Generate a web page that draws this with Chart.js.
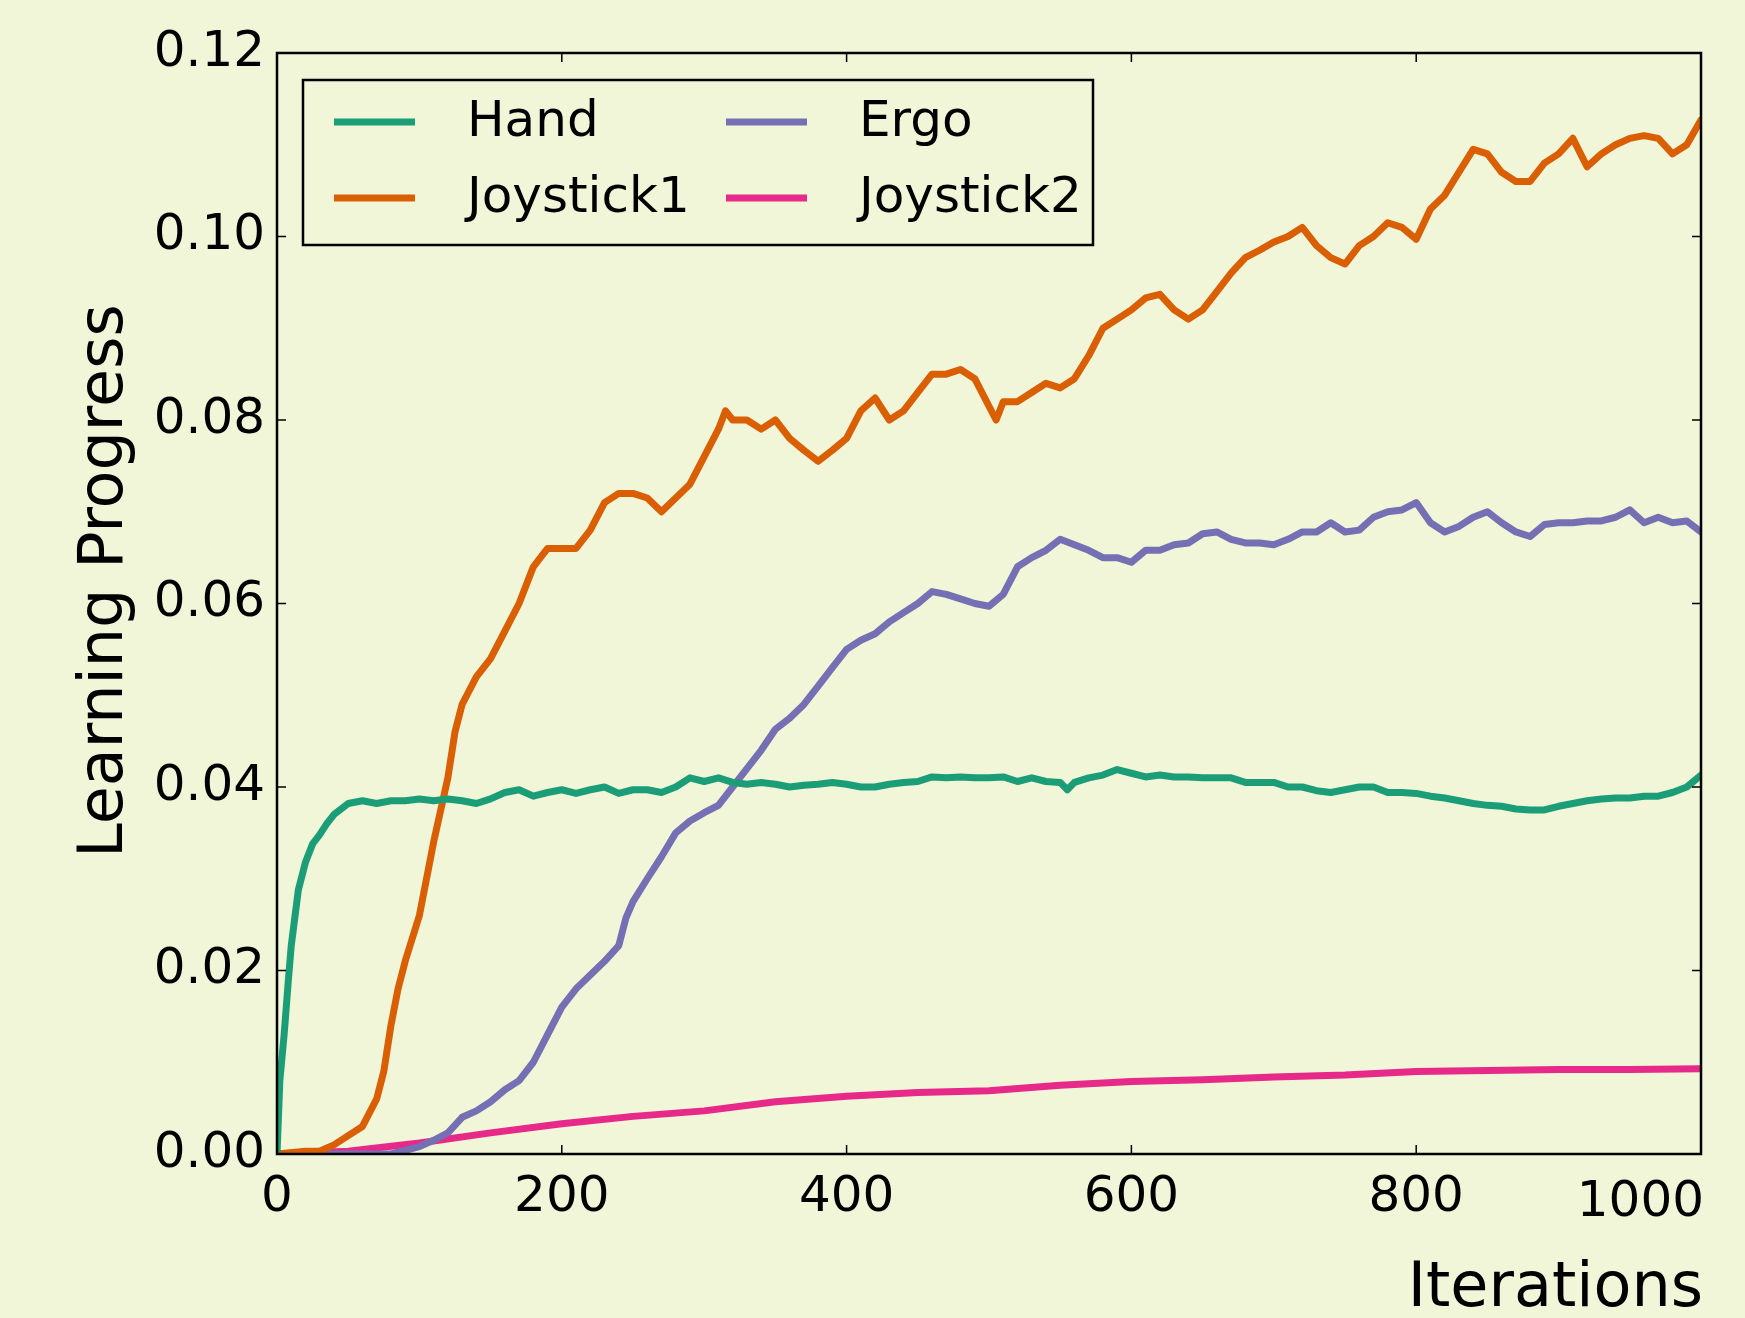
<!DOCTYPE html>
<html>
<head>
<meta charset="utf-8">
<script src="https://cdn.jsdelivr.net/npm/chart.js@4.4.1/dist/chart.umd.min.js"></script>
<style>
  html, body { margin: 0; padding: 0; background: #f1f6d8; }
  #wrap { width: 1745px; height: 1318px; }
</style>
</head>
<body>
<div id="wrap"><canvas id="lpChart" width="1745" height="1318"></canvas></div>
<script>
// values
const handIters = [0, 2, 5, 8, 10, 15, 20, 25, 30, 35, 40, 50, 60, 70, 80, 90, 100, 110, 120, 130, 140, 150, 160, 170, 180, 190,
  200, 210, 220, 230, 240, 250, 260, 270, 280, 290, 300, 310, 320, 330, 340, 350, 360, 370, 380, 390, 400, 410, 420, 430, 440,
  450, 460, 470, 480, 490, 500, 510, 520, 530, 540, 550, 555, 560, 570, 580, 590, 600, 610, 620, 630, 640, 650, 660, 670, 680,
  690, 700, 710, 720, 730, 740, 750, 760, 770, 780, 790, 800, 810, 820, 830, 840, 850, 860, 870, 880, 890, 900, 910, 920, 930,
  940, 950, 960, 970, 980, 990, 1000];
const handValues = [0, 0.008, 0.013, 0.019, 0.0227, 0.0288, 0.0318, 0.0338, 0.0348, 0.036, 0.037, 0.0382, 0.0385, 0.0382, 0.0385,
  0.0385, 0.0387, 0.0385, 0.0387, 0.0385, 0.0382, 0.0387, 0.0394, 0.0397, 0.039, 0.0394, 0.0397, 0.0393, 0.0397, 0.040, 0.0393,
  0.0397, 0.0397, 0.0394, 0.040, 0.041, 0.0406, 0.041, 0.0405, 0.0403, 0.0405, 0.0403, 0.040, 0.0402, 0.0403, 0.0405, 0.0403,
  0.040, 0.040, 0.0403, 0.0405, 0.0406, 0.0411, 0.041, 0.0411, 0.041, 0.041, 0.0411, 0.0406, 0.041, 0.0406, 0.0405, 0.0397,
  0.0405, 0.041, 0.0413, 0.0419, 0.0415, 0.0411, 0.0413, 0.0411, 0.0411, 0.041, 0.041, 0.041, 0.0405, 0.0405, 0.0405, 0.040,
  0.040, 0.0396, 0.0394, 0.0397, 0.040, 0.040, 0.0394, 0.0394, 0.0393, 0.039, 0.0388, 0.0385, 0.0382, 0.038, 0.0379, 0.0376,
  0.0375, 0.0375, 0.0379, 0.0382, 0.0385, 0.0387, 0.0388, 0.0388, 0.039, 0.039, 0.0394, 0.040, 0.0413];

const joy1Iters = [0, 20, 30, 40, 50, 60, 70, 75, 80, 85, 90, 100, 110, 120, 125, 130, 140, 150, 160, 170, 180, 190, 200, 210,
  220, 230, 240, 250, 260, 270, 280, 290, 300, 310, 315, 320, 330, 340, 350, 360, 370, 380, 390, 400, 410, 420, 430, 440, 450,
  460, 470, 480, 490, 500, 505, 510, 520, 530, 540, 550, 560, 570, 580, 590, 600, 610, 620, 630, 640, 650, 660, 670, 680, 690,
  700, 710, 720, 730, 740, 750, 760, 770, 780, 790, 800, 810, 820, 830, 840, 850, 860, 870, 880, 890, 900, 910, 920, 930, 940,
  950, 960, 970, 980, 990, 1000];
const joy1Values = [0, 0.0003, 0.0003, 0.001, 0.002, 0.003, 0.006, 0.009, 0.014, 0.018, 0.021, 0.026, 0.034, 0.041, 0.046,
  0.049, 0.052, 0.054, 0.057, 0.060, 0.064, 0.066, 0.066, 0.066, 0.068, 0.071, 0.072, 0.072, 0.0715, 0.070, 0.0715, 0.073,
  0.076, 0.079, 0.081, 0.080, 0.080, 0.079, 0.080, 0.078, 0.0767, 0.0755, 0.0767, 0.078, 0.081, 0.0824, 0.080, 0.081, 0.083,
  0.085, 0.085, 0.0855, 0.0845, 0.0815, 0.080, 0.082, 0.082, 0.083, 0.084, 0.0835, 0.0845, 0.087, 0.090, 0.091, 0.092, 0.0933,
  0.0937, 0.092, 0.091, 0.092, 0.094, 0.096, 0.0977, 0.0985, 0.0994, 0.100, 0.101, 0.099, 0.0977, 0.097, 0.099, 0.100, 0.1015,
  0.101, 0.0997, 0.103, 0.1045, 0.107, 0.1095, 0.109, 0.107, 0.106, 0.106, 0.108, 0.109, 0.1107, 0.1076, 0.109, 0.110, 0.1107,
  0.111, 0.1107, 0.109, 0.110, 0.1127];

const ergoIters = [0, 80, 90, 100, 110, 120, 130, 140, 150, 160, 170, 180, 190, 200, 210, 220, 230, 240, 245, 250, 260, 270,
  280, 290, 300, 310, 320, 330, 340, 350, 360, 370, 380, 390, 400, 410, 420, 430, 440, 450, 460, 470, 480, 490, 500, 510, 520,
  530, 540, 550, 560, 570, 580, 590, 600, 610, 620, 630, 640, 650, 660, 670, 680, 690, 700, 710, 720, 730, 740, 750, 760, 770,
  780, 790, 800, 810, 820, 830, 840, 850, 860, 870, 880, 890, 900, 910, 920, 930, 940, 950, 960, 970, 980, 990, 1000];
const ergoValues = [0, 0, 0.0004, 0.0008, 0.0015, 0.0023, 0.004, 0.0047, 0.0057, 0.007, 0.008, 0.010, 0.013, 0.016, 0.018,
  0.0195, 0.021, 0.0227, 0.0257, 0.0275, 0.030, 0.0324, 0.035, 0.0363, 0.0372, 0.038, 0.040, 0.042, 0.044, 0.0463, 0.0475,
  0.049, 0.051, 0.053, 0.055, 0.056, 0.0567, 0.058, 0.059, 0.060, 0.0613, 0.061, 0.0605, 0.060, 0.0597, 0.061, 0.064, 0.065,
  0.0658, 0.067, 0.0664, 0.0658, 0.065, 0.065, 0.0645, 0.0658, 0.0658, 0.0664, 0.0666, 0.0676, 0.0678, 0.067, 0.0666, 0.0666,
  0.0664, 0.067, 0.0678, 0.0678, 0.0688, 0.0678, 0.068, 0.0694, 0.070, 0.0702, 0.071, 0.0688, 0.0678, 0.0684, 0.0694, 0.070,
  0.0688, 0.0678, 0.0673, 0.0686, 0.0688, 0.0688, 0.069, 0.069, 0.0694, 0.0702, 0.0688, 0.0694, 0.0688, 0.069, 0.0678];

const joy2Iters = [0, 50, 100, 150, 200, 250, 300, 350, 400, 450, 500, 550, 600, 650, 700, 750, 800, 850, 900, 950, 1000];
const joy2Values = [0, 0.0003, 0.0012, 0.0023, 0.0033, 0.0041, 0.0047, 0.0057, 0.0063, 0.0067, 0.0069, 0.0075, 0.0079, 0.0081,
  0.0084, 0.0086, 0.009, 0.0091, 0.0092, 0.0092, 0.0093];

const xTicks = [0, 200, 400, 600, 800, 1000];
const yTicks = [0, 0.02, 0.04, 0.06, 0.08, 0.10, 0.12];

const BG = '#f1f6d8';
const FONT = '"DejaVu Sans", sans-serif';
const TICK_FONT = '50px ' + FONT;

function pairs(xs, ys) {
    return xs.map((x, i) => ({ x: x, y: ys[i] }));
}

const background = {
    id: 'background',
    beforeDraw(chart) {
        const ctx = chart.ctx;
        ctx.save();
        ctx.fillStyle = BG;
        ctx.fillRect(0, 0, chart.width, chart.height);
        ctx.restore();
    }
};

// box round the axes with inward ticks on every side, plus the x tick labels
const frame = {
    id: 'frame',
    afterDatasetsDraw(chart) {
        const { ctx, chartArea: a, scales } = chart;
        const len = 9;
        ctx.save();
        ctx.strokeStyle = '#000';
        ctx.lineWidth = 1.5;
        ctx.beginPath();
        xTicks.forEach(v => {
            const px = scales.x.getPixelForValue(v);
            ctx.moveTo(px, a.bottom); ctx.lineTo(px, a.bottom - len);
            ctx.moveTo(px, a.top); ctx.lineTo(px, a.top + len);
        });
        yTicks.forEach(v => {
            const py = scales.y.getPixelForValue(v);
            ctx.moveTo(a.left, py); ctx.lineTo(a.left + len, py);
            ctx.moveTo(a.right, py); ctx.lineTo(a.right - len, py);
        });
        ctx.stroke();
        ctx.lineWidth = 2.5;
        ctx.strokeRect(a.left, a.top, a.right - a.left, a.bottom - a.top);

        // last label sits flush with the right edge, as in the figure
        ctx.fillStyle = '#000';
        ctx.font = TICK_FONT;
        ctx.textBaseline = 'alphabetic';
        xTicks.forEach((v, i) => {
            const px = scales.x.getPixelForValue(v);
            const last = i === xTicks.length - 1;
            ctx.textAlign = last ? 'right' : 'center';
            ctx.fillText(String(v), last ? px + 3 : px, a.bottom + (last ? 62 : 57));
        });
        ctx.restore();
    }
};

const axisTitles = {
    id: 'axisTitles',
    afterDraw(chart) {
        const ctx = chart.ctx;
        const a = chart.chartArea;
        ctx.save();
        ctx.fillStyle = '#000';
        ctx.font = '62px ' + FONT;
        ctx.textAlign = 'right';
        ctx.textBaseline = 'alphabetic';
        ctx.fillText('Iterations', a.right + 2, 1306);
        ctx.translate(122, 581);
        ctx.rotate(-Math.PI / 2);
        ctx.textAlign = 'center';
        ctx.fillText('Learning Progress', 0, 0);
        ctx.restore();
    }
};

// two-column legend in a box, as in the figure
const boxLegend = {
    id: 'boxLegend',
    afterDraw(chart) {
        const ctx = chart.ctx;
        const sets = chart.data.datasets;
        const box = { left: 303, top: 80, right: 1093, bottom: 245 };
        const cols = [334, 726];
        const rows = [122, 198];
        ctx.save();
        ctx.fillStyle = BG;
        ctx.fillRect(box.left, box.top, box.right - box.left, box.bottom - box.top);
        ctx.strokeStyle = '#000';
        ctx.lineWidth = 2.5;
        ctx.strokeRect(box.left, box.top, box.right - box.left, box.bottom - box.top);
        ctx.font = '50px ' + FONT;
        ctx.textBaseline = 'middle';
        ctx.textAlign = 'left';
        // column-major order: Hand, Joystick1 | Ergo, Joystick2
        sets.forEach((ds, i) => {
            const c = Math.floor(i / 2), r = i % 2;
            const x = cols[c], y = rows[r];
            ctx.strokeStyle = ds.borderColor;
            ctx.lineWidth = 7;
            ctx.beginPath();
            ctx.moveTo(x, y);
            ctx.lineTo(x + 81, y);
            ctx.stroke();
            ctx.fillStyle = '#000';
            ctx.fillText(ds.label, x + 133, y + 1);
        });
        ctx.restore();
    }
};

const ctx = document.getElementById('lpChart').getContext('2d');

new Chart(ctx, {
    type: 'line',
    data: {
        datasets: [{
            label: 'Hand',
            data: pairs(handIters, handValues),
            borderColor: '#1b9e77'
        }, {
            label: 'Joystick1',
            data: pairs(joy1Iters, joy1Values),
            borderColor: '#d95f02'
        }, {
            label: 'Ergo',
            data: pairs(ergoIters, ergoValues),
            borderColor: '#7570b3'
        }, {
            label: 'Joystick2',
            data: pairs(joy2Iters, joy2Values),
            borderColor: '#e7298a'
        }]
    },
    options: {
        responsive: false,
        animation: false,
        devicePixelRatio: 1,
        layout: { padding: { top: 53, right: 44, left: 0, bottom: 0 } },
        elements: {
            line: { borderWidth: 7, tension: 0, borderJoinStyle: 'round', borderCapStyle: 'round' },
            point: { radius: 0 }
        },
        plugins: {
            legend: { display: false },
            tooltip: { enabled: false }
        },
        scales: {
            x: {
                type: 'linear',
                min: 0,
                max: 1000,
                afterBuildTicks: scale => { scale.ticks = xTicks.map(v => ({ value: v })); },
                ticks: { display: false },
                grid: { display: false, drawTicks: false },
                border: { display: false },
                afterFit: scale => { scale.height = 164; }
            },
            y: {
                min: 0,
                max: 0.12,
                afterBuildTicks: scale => { scale.ticks = yTicks.map(v => ({ value: v })); },
                ticks: {
                    font: { family: FONT, size: 50 },
                    color: '#000',
                    padding: 12,
                    callback: v => v.toFixed(2)
                },
                grid: { display: false, drawTicks: false },
                border: { display: false },
                afterFit: scale => { scale.width = 277; }
            }
        }
    },
    plugins: [background, frame, axisTitles, boxLegend]
});
</script>
</body>
</html>
